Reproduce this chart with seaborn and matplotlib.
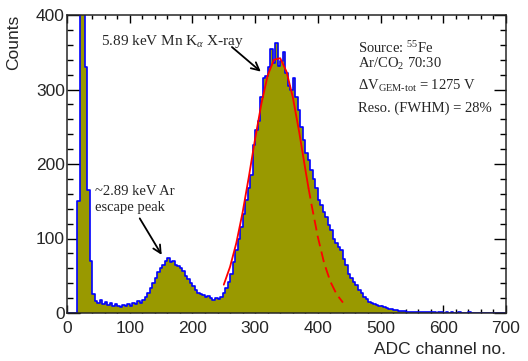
import numpy as np
import pandas as pd
import seaborn as sns
import matplotlib.pyplot as plt
from matplotlib.ticker import MultipleLocator

sns.set_style("ticks")
plt.rcParams["font.family"] = ["Liberation Sans", "DejaVu Sans"]
plt.rcParams["mathtext.fontset"] = "custom"
plt.rcParams["mathtext.rm"] = "Liberation Serif"
plt.rcParams["mathtext.it"] = "Liberation Serif:italic"
plt.rcParams["mathtext.bf"] = "Liberation Serif:bold"

# ADC spectrum, 4-channel bins from 0 to 700
bin_width = 4
counts = [
    0, 0, 0, 0, 150, 480, 800, 330, 165, 70,
    26, 16, 13, 17, 12, 15, 11, 14, 9, 12,
    10, 8, 11, 9, 12, 10, 13, 12, 16, 14,
    18, 22, 27, 33, 40, 47, 55, 60, 64, 70,
    74, 68, 70, 65, 63, 60, 56, 50, 46, 40,
    36, 31, 27, 26, 24, 21, 23, 20, 18, 20,
    19, 22, 27, 33, 42, 52, 68, 85, 100, 116,
    133, 152, 168, 185, 225, 245, 258, 290, 315, 318,
    330, 355, 335, 362, 332, 338, 350, 322, 305, 300,
    316, 290, 272, 250, 232, 215, 205, 192, 180, 168,
    152, 145, 135, 129, 118, 111, 100, 94, 88, 84,
    72, 64, 52, 47, 42, 37, 31, 27, 22, 19,
    15, 14, 12, 11, 10, 9, 8, 7, 6, 5,
    4, 4, 3, 3, 3, 2, 2, 2, 2, 1,
    2, 1, 1, 1, 1, 1, 1, 0, 1, 1,
    0, 1, 0, 1, 0, 0, 1, 0, 0, 0,
    1, 0, 0, 0, 0, 0, 0, 0, 0, 0,
    0, 0, 0, 0, 0,
]

# gaussian fit curve
fit_channel = [250, 260, 270, 280, 290, 300, 310, 320, 330, 340, 350, 360, 370,
               380, 385, 390, 400, 410, 420, 430, 440]
fit_counts = [38, 62, 94, 135, 183, 234, 281, 319, 340, 342, 324, 290, 244,
              193, 168, 145, 102, 67, 42, 25, 14]
fit_split = 385

edges = [bin_width * i for i in range(len(counts) + 1)]
hist = pd.DataFrame({"channel": [e + bin_width / 2 for e in edges[:-1]], "counts": counts})
fit = pd.DataFrame({"channel": fit_channel, "counts": fit_counts})

fig = plt.figure(figsize=(5.28, 3.61), dpi=100)
ax = fig.add_axes([67 / 528, 48 / 361, 439 / 528, 298 / 361])

sns.histplot(data=hist, x="channel", weights="counts", bins=edges, element="step",
             fill=True, color="#999900", alpha=1, linewidth=0, ax=ax)
sns.histplot(data=hist, x="channel", weights="counts", bins=edges, element="step",
             fill=False, color="#0000ff", linewidth=1.2, ax=ax)

sns.lineplot(data=fit[fit.channel <= fit_split], x="channel", y="counts",
             color="red", linewidth=1.3, ax=ax)
sns.lineplot(data=fit[fit.channel >= fit_split], x="channel", y="counts",
             color="red", linewidth=1.3, linestyle=(0, (6, 3)), ax=ax)

ax.set_xlim(0, 700)
ax.set_ylim(0, 400)

ax.xaxis.set_major_locator(MultipleLocator(100))
ax.xaxis.set_minor_locator(MultipleLocator(20))
ax.yaxis.set_major_locator(MultipleLocator(100))
ax.yaxis.set_minor_locator(MultipleLocator(20))
ax.tick_params(which="both", direction="in", top=True, right=True, width=1.0,
               labelsize=12.5, color="black")
ax.tick_params(axis="x", which="major", length=6, pad=6)
ax.tick_params(axis="x", which="minor", length=3)
ax.tick_params(axis="y", which="major", length=9, pad=1.5)
ax.tick_params(axis="y", which="minor", length=4.5)
for s in ax.spines.values():
    s.set_linewidth(1.1)
    s.set_visible(True)

ax.set_xlabel("ADC channel no.", fontsize=12.5, loc="right")
ax.set_ylabel("Counts", fontsize=12.5, loc="top")
ax.xaxis.set_label_coords(1.0, -0.097)
ax.yaxis.set_label_coords(-0.105, 1.0)

serif = ["Liberation Serif", "DejaVu Serif"]
fs = 10.5
ax.text(54, 360, "5.89 keV Mn K$_{\\alpha}$ X-ray", family=serif, fontsize=11, va="baseline")
ax.annotate("", xy=(309, 324), xytext=(263, 357),
            arrowprops=dict(arrowstyle="->", color="black", lw=1.3, mutation_scale=14,
                            shrinkA=0, shrinkB=0))
ax.text(45, 158, "~2.89 keV Ar", family=serif, fontsize=fs, va="baseline")
ax.text(45, 137, "escape peak", family=serif, fontsize=fs, va="baseline")
ax.annotate("", xy=(151, 78), xytext=(116, 127),
            arrowprops=dict(arrowstyle="->", color="black", lw=1.3, mutation_scale=14,
                            shrinkA=0, shrinkB=0))

ax.text(464, 349, "Source: $^{55}$Fe", family=serif, fontsize=fs, va="baseline")
ax.text(464, 329, "Ar/CO$_{2}$ 70:30", family=serif, fontsize=fs, va="baseline")
ax.text(464, 299, "ΔV$_{\\mathrm{GEM\\text{-}tot}}$ = 1275 V", family=serif, fontsize=fs, va="baseline")
ax.text(464, 270, "Reso. (FWHM) = 28%", family=serif, fontsize=fs, va="baseline")

fig.savefig("out.png", dpi=100)
plt.close()
